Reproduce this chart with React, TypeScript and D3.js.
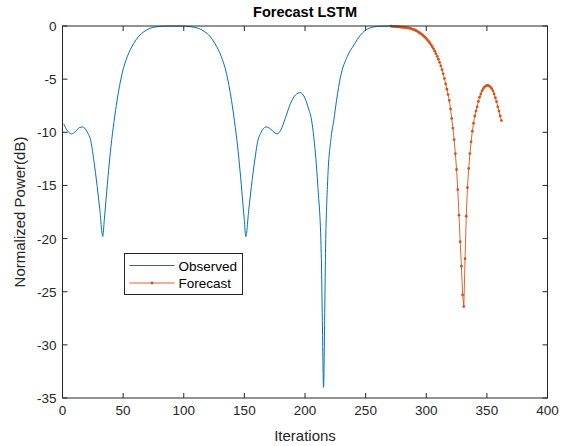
import React from "react";
import * as d3 from "d3";

const observedIter = [1, 4, 7.4, 11, 14, 16.5, 19, 21, 23.1, 25.8, 28.6, 30.8, 33.2, 34.5, 36, 38, 40, 42.5, 45, 49.2, 53.4, 58.8, 63, 67.1, 72, 78, 85, 92, 99, 106, 112, 117.3, 121.5, 125.6, 131, 135.2, 139.4, 141.9, 144.4, 146.4, 148.4, 149.9, 151.2, 153.6, 155.8, 158.6, 161.3, 163.4, 165.4, 167.9, 170.5, 173.5, 177, 180, 184, 188, 192, 196, 200, 203, 205.4, 207.3, 210.6, 213.4, 214.3, 215.3, 216.2, 216.9, 218.5, 221.5, 223.8, 226, 229.3, 234.8, 240.3, 245.8, 252.7, 262, 271];
const observedDb = [-9.2, -9.85, -10.15, -9.9, -9.55, -9.5, -9.7, -10.1, -10.7, -12.6, -15.1, -17.3, -19.8, -18.2, -16.2, -13.6, -11.3, -9.0, -7.0, -4.45, -2.89, -1.63, -0.95, -0.54, -0.22, -0.07, -0.01, 0, -0.01, -0.07, -0.22, -0.54, -0.95, -1.63, -2.89, -4.45, -7.0, -9.0, -11.3, -13.6, -16.2, -18.2, -19.8, -17.3, -15.1, -12.6, -10.7, -10.1, -9.7, -9.5, -9.6, -9.9, -10.15, -9.8, -8.6, -7.3, -6.5, -6.27, -6.8, -7.8, -8.85, -10.5, -15.1, -21.4, -27.7, -34, -27.7, -21.4, -15.1, -10.5, -8.85, -7.0, -4.77, -2.89, -1.79, -0.85, -0.22, -0.02, 0];

const forecastStart = 271;
const forecastDb = [
  -0.02, -0.03, -0.04, -0.05, -0.06, -0.07, -0.08, -0.09, -0.1, -0.11,
  -0.12, -0.13, -0.14, -0.16, -0.18, -0.2, -0.23, -0.27, -0.31, -0.35,
  -0.4, -0.46, -0.52, -0.6, -0.68, -0.76, -0.85, -0.95, -1.06, -1.18,
  -1.31, -1.45, -1.6, -1.77, -1.95, -2.15, -2.37, -2.6, -2.85, -3.12,
  -3.42, -3.75, -4.1, -4.5, -4.95, -5.45, -5.95, -6.45, -7.0, -7.8,
  -8.7, -9.6, -10.7, -12.0, -13.5, -15.4, -17.8, -20.3, -22.6, -25.3,
  -26.4, -21.9, -17.9, -15.2, -13.4, -12.0, -10.9, -9.9, -9.15, -8.47,
  -8.0, -7.6, -7.1, -6.7, -6.4, -6.1, -5.9, -5.75, -5.65, -5.6,
  -5.6, -5.65, -5.75, -5.9, -6.1, -6.4, -6.75, -7.12, -7.6, -8.0,
  -8.47, -8.9,
];

const xTicks = [0, 50, 100, 150, 200, 250, 300, 350, 400];
const yTicks = [0, -5, -10, -15, -20, -25, -30, -35];
const seriesNames = ["Observed", "Forecast"];
const titleText = "Forecast LSTM";
const xLabel = "Iterations";
const yLabel = "Normalized Power(dB)";

const BLUE = "#0072BD";
const ORANGE = "#D95319";
const AX = "#262626";
const FONT = "Arial, 'Liberation Sans', Helvetica, sans-serif";

export default function App() {
  const W = 567, H = 446;
  const L = 62.5, R = 547.5, T = 26, B = 398;
  const x = d3.scaleLinear().domain([0, 400]).range([L, R]);
  const y = d3.scaleLinear().domain([-35, 0]).range([B, T]);

  const obs = observedIter.map((it, i) => [it, observedDb[i]] as [number, number]);
  const fc = forecastDb.map((v, i) => [forecastStart + i, v] as [number, number]);

  const obsLine = d3.line<[number, number]>().x(d => x(d[0])).y(d => y(d[1])).curve(d3.curveMonotoneX);
  const fcLine = d3.line<[number, number]>().x(d => x(d[0])).y(d => y(d[1]));

  const tick = 5;
  const legX = 124.5, legY = 253.5, legW = 118, legH = 41;

  return (
    <svg width={W} height={H} style={{ position: "absolute", left: 0, top: 0, background: "#fff" }} fontFamily={FONT}>
      <rect x={0} y={0} width={W} height={H} fill="#fff" />
      {xTicks.map(t => (
        <g key={"xt" + t}>
          <line x1={x(t)} x2={x(t)} y1={B} y2={B - tick} stroke={AX} strokeWidth={1} />
          <line x1={x(t)} x2={x(t)} y1={T} y2={T + tick} stroke={AX} strokeWidth={1} />
          <text x={x(t)} y={B + 17} textAnchor="middle" fontSize={13.5} fill={AX}>{t}</text>
        </g>
      ))}
      {yTicks.map(t => (
        <g key={"yt" + t}>
          <line x1={L} x2={L + tick} y1={y(t)} y2={y(t)} stroke={AX} strokeWidth={1} />
          <line x1={R} x2={R - tick} y1={y(t)} y2={y(t)} stroke={AX} strokeWidth={1} />
          <text x={L - 6} y={y(t) + 5} textAnchor="end" fontSize={13.5} fill={AX}>{t}</text>
        </g>
      ))}
      <path d={obsLine(obs) || ""} fill="none" stroke={BLUE} strokeWidth={1} />
      <path d={fcLine(fc) || ""} fill="none" stroke={ORANGE} strokeWidth={0.9} />
      {fc.map((d, i) => (
        <circle key={"m" + i} cx={x(d[0])} cy={y(d[1])} r={1.4} fill={ORANGE} />
      ))}
      <rect x={L} y={T} width={R - L} height={B - T} fill="none" stroke={AX} strokeWidth={1} />
      <text x={(L + R) / 2} y={17} textAnchor="middle" fontSize={14.5} fontWeight="bold" fill="#000">{titleText}</text>
      <text x={(L + R) / 2} y={441} textAnchor="middle" fontSize={15} fill={AX}>{xLabel}</text>
      <text transform={`translate(25, ${(T + B) / 2}) rotate(-90)`} textAnchor="middle" fontSize={15} fill={AX}>{yLabel}</text>
      <rect x={legX} y={legY} width={legW} height={legH} fill="#fff" stroke={AX} strokeWidth={1} />
      <line x1={legX + 5} x2={legX + 50} y1={legY + 12} y2={legY + 12} stroke={BLUE} strokeWidth={1} />
      <text x={legX + 54} y={legY + 17} fontSize={13.5} fill="#000">{seriesNames[0]}</text>
      <line x1={legX + 5} x2={legX + 50} y1={legY + 29.5} y2={legY + 29.5} stroke={ORANGE} strokeWidth={0.9} />
      <circle cx={legX + 27.5} cy={legY + 29.5} r={1.4} fill={ORANGE} />
      <text x={legX + 54} y={legY + 34.5} fontSize={13.5} fill="#000">{seriesNames[1]}</text>
    </svg>
  );
}
